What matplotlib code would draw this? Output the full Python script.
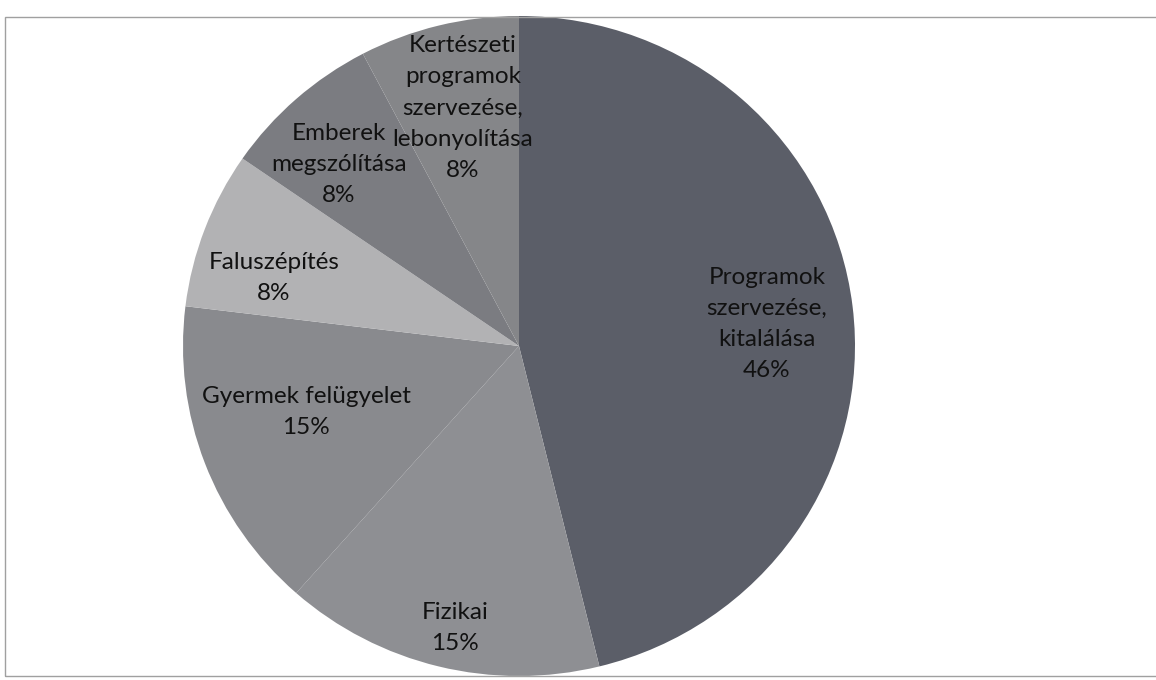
import matplotlib.pyplot as plt
import matplotlib.patches as mpatches

plt.rcParams["font.family"] = ["Lato", "DejaVu Sans"]

labels = ["Programok\nszervezése,\nkitalálása", "Fizikai", "Gyermek felügyelet",
          "Faluszépítés", "Emberek\nmegszólítása",
          "Kertészeti\nprogramok\nszervezése,\nlebonyolítása"]
values = [6, 2, 2, 1, 1, 1]
colors = ["#5b5e68", "#8e8f93", "#898a8e", "#b2b2b4", "#7b7c81", "#858689"]
# label centres, in units of the pie radius
label_xy = [(0.738, 0.067), (-0.19, -0.855), (-0.634, -0.2),
            (-0.729, 0.206), (-0.536, 0.55), (-0.167, 0.721)]

W, H = 1156, 680
fig = plt.figure(figsize=(W / 100, H / 100), dpi=100)
fig.patches.append(mpatches.Rectangle((5 / W, 4 / H), 1160 / W, 659 / H,
                                      transform=fig.transFigure, fill=False,
                                      edgecolor="#a0a0a0", lw=1))

cx, cy, rx, ry = 519, 346, 336, 330
ax = fig.add_axes([(cx - rx) / W, (H - cy - ry) / H, 2 * rx / W, 2 * ry / H])
wedges, _ = ax.pie(values, colors=colors, startangle=90, counterclock=False,
                   wedgeprops=dict(linewidth=0))
ax.set_aspect("auto")
ax.set_xlim(-1, 1)
ax.set_ylim(-1, 1)

total = sum(values)
for lab, v, (x, y) in zip(labels, values, label_xy):
    pct = "%d%%" % round(100 * v / total)
    ax.text(x, y, lab + "\n" + pct, ha="center", va="center", fontsize=17.5,
            linespacing=1.6, color="#111111")

fig.savefig("out.png", dpi=100)
